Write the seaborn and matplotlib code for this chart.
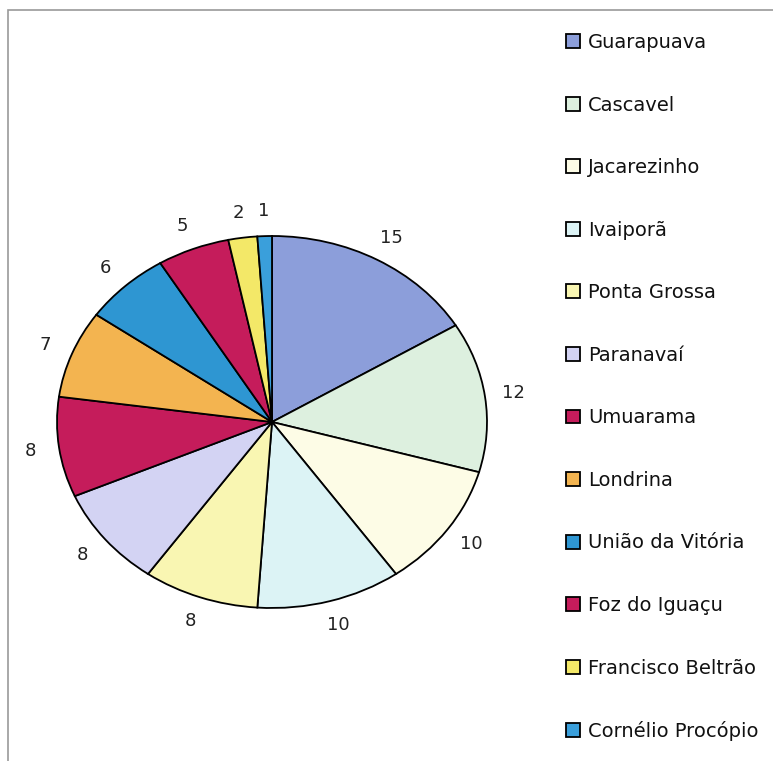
import matplotlib
matplotlib.use("Agg")
import matplotlib.pyplot as plt
import seaborn as sns
from matplotlib.patches import Rectangle

categories = ["Guarapuava", "Cascavel", "Jacarezinho", "Ivaiporã", "Ponta Grossa",
              "Paranavaí", "Umuarama", "Londrina", "União da Vitória", "Foz do Iguaçu",
              "Francisco Beltrão", "Cornélio Procópio"]
values = [15, 12, 10, 10, 8, 8, 8, 7, 6, 5, 2, 1]
colors = ["#8C9EDA", "#DDF0DF", "#FDFCE6", "#DCF3F5", "#F9F6B2", "#D3D3F3",
          "#C51C5B", "#F3B450", "#2E96D2", "#C51C5B", "#F3E868", "#3A9FDB"]

sns.set_style("white")
plt.rcParams['font.family'] = ['DejaVu Sans']

W, H = 773, 761
fig = plt.figure(figsize=(W / 100, H / 100), dpi=100)
fig.patch.set_facecolor("white")

# frame
fig.add_artist(Rectangle((8 / W, -0.01), 1.0, (H - 10) / H + 0.01, transform=fig.transFigure,
                         fill=False, edgecolor="#9a9a9a", linewidth=1.2))

cx, cy, rx, ry = 272, 422, 215, 186
ax = fig.add_axes([(cx - rx) / W, (H - cy - ry) / H, 2 * rx / W, 2 * ry / H])
wedges, texts = ax.pie(values, colors=colors, startangle=90, counterclock=False,
                       labels=[str(v) for v in values], labeldistance=1.135,
                       wedgeprops=dict(edgecolor="black", linewidth=1.3),
                       textprops=dict(fontsize=13, color="#222222"))
for t in texts:
    t.set_ha("center")
    t.set_va("center")
ax.set_aspect("auto")
ax.set_xlim(-1, 1)
ax.set_ylim(-1, 1)
ax.axis("off")

leg = fig.legend(wedges, categories, loc="upper left",
                 bbox_to_anchor=(566 / W, (H - 33) / H), frameon=False,
                 fontsize=14, labelspacing=2.24, handlelength=0.72, handleheight=0.72,
                 handletextpad=0.4, borderaxespad=0, borderpad=0)
for h in leg.legend_handles:
    h.set_edgecolor("black")
    h.set_linewidth(1.3)
for t in leg.get_texts():
    t.set_color("#111111")

fig.savefig("out.png", dpi=100, facecolor="white")
